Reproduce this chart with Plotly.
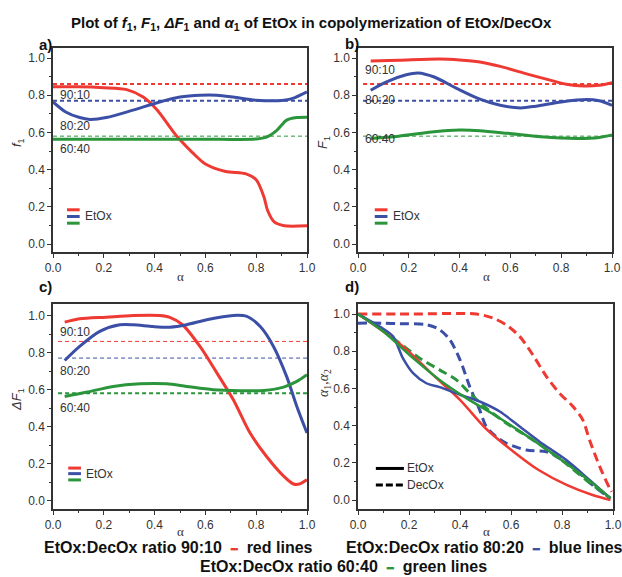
import plotly.graph_objects as go

# ---------------- data ----------------
RATIOS = ["90:10", "80:20", "60:40"]
COLORS = ["#ee3a32", "#3c4fa6", "#2b953c"]
COLOR_NAMES = ["red", "blue", "green"]
FEED_F1 = [0.86, 0.77, 0.58]

# panel a: f1 vs alpha
a_x_red = [0.0, 0.1, 0.2, 0.29, 0.355, 0.41, 0.47, 0.5, 0.55, 0.6, 0.68, 0.76, 0.8, 0.83, 0.845, 0.87, 0.91, 1.0]
a_y_red = [0.845, 0.845, 0.84, 0.83, 0.79, 0.72, 0.61, 0.56, 0.49, 0.43, 0.39, 0.377, 0.345, 0.255, 0.18, 0.12, 0.098, 0.098]
a_x_blue = [0.0, 0.05, 0.105, 0.145, 0.21, 0.315, 0.42, 0.5, 0.58, 0.645, 0.71, 0.8, 0.91, 0.95, 1.0]
a_y_blue = [0.764, 0.71, 0.68, 0.67, 0.68, 0.72, 0.764, 0.79, 0.80, 0.80, 0.79, 0.773, 0.773, 0.786, 0.818]
a_x_green = [0.0, 0.3, 0.6, 0.8, 0.84, 0.88, 0.92, 0.96, 1.0]
a_y_green = [0.563, 0.563, 0.563, 0.565, 0.575, 0.61, 0.666, 0.68, 0.682]

# panel b: F1 vs alpha
b_x_red = [0.05, 0.16, 0.32, 0.4, 0.48, 0.56, 0.66, 0.76, 0.82, 0.89, 0.95, 1.0]
b_y_red = [0.984, 0.988, 0.995, 0.99, 0.979, 0.955, 0.916, 0.88, 0.859, 0.85, 0.854, 0.868]
b_x_blue = [0.05, 0.11, 0.19, 0.237, 0.3, 0.39, 0.48, 0.56, 0.64, 0.7, 0.8, 0.9, 0.95, 1.0]
b_y_blue = [0.827, 0.871, 0.91, 0.92, 0.898, 0.836, 0.779, 0.746, 0.732, 0.741, 0.764, 0.777, 0.77, 0.746]
b_x_green = [0.05, 0.16, 0.3, 0.4, 0.48, 0.59, 0.72, 0.86, 0.95, 1.0]
b_y_green = [0.568, 0.58, 0.604, 0.6125, 0.609, 0.595, 0.577, 0.568, 0.573, 0.586]

# panel c: dF1 vs alpha
c_x_red = [0.046, 0.105, 0.21, 0.316, 0.42, 0.46, 0.51, 0.58, 0.645, 0.71, 0.776, 0.84, 0.91, 0.947, 0.97, 1.0]
c_y_red = [0.964, 0.982, 0.991, 1.0, 1.0, 0.99, 0.95, 0.83, 0.69, 0.545, 0.365, 0.24, 0.13, 0.09, 0.09, 0.113]
c_x_blue = [0.046, 0.105, 0.184, 0.263, 0.316, 0.395, 0.46, 0.526, 0.605, 0.71, 0.763, 0.816, 0.868, 0.92, 0.96, 1.0]
c_y_blue = [0.757, 0.833, 0.914, 0.95, 0.95, 0.94, 0.937, 0.95, 0.977, 1.0, 0.995, 0.94, 0.833, 0.67, 0.509, 0.365]
c_x_green = [0.046, 0.13, 0.237, 0.342, 0.447, 0.526, 0.63, 0.737, 0.83, 0.908, 0.96, 1.0]
c_y_green = [0.563, 0.585, 0.617, 0.631, 0.631, 0.617, 0.599, 0.594, 0.595, 0.613, 0.644, 0.68]

# panel d: alpha1 (EtOx, solid) and alpha2 (DecOx, dashed) vs alpha
d_x_et_red = [0.0, 0.098, 0.19, 0.294, 0.4, 0.5, 0.61, 0.71, 0.82, 0.92, 0.99]
d_y_et_red = [1.0, 0.907, 0.81, 0.673, 0.539, 0.386, 0.26, 0.16, 0.08, 0.027, 0.0]
d_x_et_blue = [0.0, 0.085, 0.137, 0.176, 0.216, 0.268, 0.32, 0.4, 0.477, 0.556, 0.634, 0.712, 0.817, 0.908, 0.99]
d_y_et_blue = [1.0, 0.933, 0.88, 0.763, 0.682, 0.628, 0.607, 0.566, 0.53, 0.476, 0.395, 0.314, 0.215, 0.108, 0.009]
d_x_et_green = [0.0, 0.098, 0.216, 0.32, 0.425, 0.556, 0.686, 0.817, 0.92, 0.99]
d_y_et_green = [1.0, 0.907, 0.763, 0.646, 0.548, 0.44, 0.323, 0.197, 0.09, 0.009]
d_x_dec_red = [0.0, 0.2, 0.464, 0.53, 0.58, 0.634, 0.686, 0.739, 0.79, 0.843, 0.882, 0.908, 0.948, 0.987, 0.995]
d_y_dec_red = [1.0, 1.0, 1.0, 0.978, 0.943, 0.88, 0.78, 0.664, 0.575, 0.503, 0.43, 0.323, 0.18, 0.063, 0.045]
d_x_dec_blue = [0.0, 0.1, 0.163, 0.268, 0.32, 0.36, 0.4, 0.438, 0.477, 0.503, 0.542, 0.582, 0.66, 0.739, 0.79, 0.856, 0.92, 0.99]
d_y_dec_blue = [0.951, 0.951, 0.948, 0.943, 0.916, 0.862, 0.754, 0.61, 0.485, 0.395, 0.341, 0.305, 0.269, 0.26, 0.224, 0.16, 0.08, 0.009]
d_x_dec_green = [0.0, 0.085, 0.163, 0.242, 0.32, 0.386, 0.438, 0.503, 0.582, 0.686, 0.79, 0.895, 0.99]
d_y_dec_green = [1.0, 0.925, 0.844, 0.763, 0.7, 0.646, 0.575, 0.494, 0.413, 0.323, 0.224, 0.108, 0.009]

TICKS = [0.0, 0.2, 0.4, 0.6, 0.8, 1.0]
TICK_TEXT = ["0.0", "0.2", "0.4", "0.6", "0.8", "1.0"]

# ---------------- figure ----------------
W, H = 622, 577
FONT = "Liberation Sans, Arial, sans-serif"
SERIF = "Liberation Serif, serif"
AXC = "#333333"

fig = go.Figure()

def curve(x, y, color, ax, dash="solid", width=3):
    fig.add_trace(go.Scatter(x=x, y=y, mode="lines", xaxis="x" + ax, yaxis="y" + ax,
                             line=dict(color=color, width=width, dash=dash, shape="spline", smoothing=0.8),
                             showlegend=False, hoverinfo="skip"))

def feed_line(v, color, ax, width, x0):
    fig.add_trace(go.Scatter(x=[x0, 1.0], y=[v, v], mode="lines", xaxis="x" + ax, yaxis="y" + ax,
                             line=dict(color=color, width=width, dash="4px,3px"),
                             showlegend=False, hoverinfo="skip"))

# panel a
feed_line(FEED_F1[0], COLORS[0], "", 2, 0.0)
feed_line(FEED_F1[1], COLORS[1], "", 2, 0.0)
feed_line(FEED_F1[2], COLORS[2], "", 1, 0.0)
curve(a_x_red, a_y_red, COLORS[0], "")
curve(a_x_blue, a_y_blue, COLORS[1], "")
curve(a_x_green, a_y_green, COLORS[2], "")
# panel b
feed_line(FEED_F1[0], COLORS[0], "2", 2, 0.02)
feed_line(FEED_F1[1], COLORS[1], "2", 2, 0.02)
feed_line(FEED_F1[2], COLORS[2], "2", 1, 0.02)
curve(b_x_red, b_y_red, COLORS[0], "2")
curve(b_x_blue, b_y_blue, COLORS[1], "2")
curve(b_x_green, b_y_green, COLORS[2], "2")
# panel c
feed_line(FEED_F1[0], COLORS[0], "3", 1, 0.02)
feed_line(FEED_F1[1], COLORS[1], "3", 1, 0.02)
feed_line(FEED_F1[2], COLORS[2], "3", 2, 0.02)
curve(c_x_red, c_y_red, COLORS[0], "3")
curve(c_x_blue, c_y_blue, COLORS[1], "3")
curve(c_x_green, c_y_green, COLORS[2], "3")
# panel d
curve(d_x_dec_red, d_y_dec_red, COLORS[0], "4", dash="9px,5px", width=3)
curve(d_x_dec_blue, d_y_dec_blue, COLORS[1], "4", dash="9px,5px", width=3)
curve(d_x_dec_green, d_y_dec_green, COLORS[2], "4", dash="9px,5px", width=3)
curve(d_x_et_red, d_y_et_red, COLORS[0], "4", width=2.5)
curve(d_x_et_blue, d_y_et_blue, COLORS[1], "4", width=2.5)
curve(d_x_et_green, d_y_et_green, COLORS[2], "4", width=2.5)

# domains (pixel-based)
def xd(l, r):
    return [l / W, r / W]

def yd(t, b):
    return [1 - b / H, 1 - t / H]

def xaxis(dom, anchor):
    return dict(domain=dom, anchor=anchor, range=[0, 1], tickvals=TICKS, ticktext=TICK_TEXT,
                ticks="outside", ticklen=4, tickwidth=1, tickcolor=AXC, automargin=False,
                minor=dict(dtick=0.1, ticks="outside", ticklen=2.5, tickcolor=AXC),
                showline=True, linecolor=AXC, linewidth=1.5, mirror=True,
                showgrid=False, zeroline=False,
                tickfont=dict(family=FONT, size=12, color="#333"))

def yaxis(dom, anchor, rng):
    d = xaxis(dom, anchor)
    d["range"] = rng
    return d

fig.update_layout(
    width=W, height=H, margin=dict(l=0, r=0, t=0, b=0, autoexpand=False),
    paper_bgcolor="white", plot_bgcolor="white", showlegend=False,
    xaxis=xaxis(xd(53, 307), "y"), yaxis=yaxis(yd(48, 252), "x", [-0.043, 1.054]),
    xaxis2=xaxis(xd(358, 612), "y2"), yaxis2=yaxis(yd(48, 252), "x2", [-0.043, 1.054]),
    xaxis3=xaxis(xd(53, 307), "y3"), yaxis3=yaxis(yd(304, 509), "x3", [-0.045, 1.062]),
    xaxis4=xaxis(xd(358, 613), "y4"), yaxis4=yaxis(yd(304, 509), "x4", [-0.048, 1.054]),
)

ann = []
def txt(x, y, text, size=12, ref="paper", xanchor="center", color="#333", angle=0, family=FONT, yanchor="middle"):
    if ref == "paper":
        ann.append(dict(x=x / W, y=1 - y / H, xref="paper", yref="paper", text=text, showarrow=False,
                        xanchor=xanchor, yanchor=yanchor, textangle=angle,
                        font=dict(family=family, size=size, color=color)))
    else:
        ann.append(dict(x=x, y=y, xref="x" + ref, yref="y" + ref, text=text, showarrow=False,
                        xanchor=xanchor, yanchor=yanchor, textangle=angle,
                        font=dict(family=family, size=size, color=color)))

# title
txt(311, 24, "<b>Plot of <i>f</i><sub>1</sub>, <i>F</i><sub>1</sub>, <i>ΔF</i><sub>1</sub> and <i>α</i><sub>1</sub> of EtOx in copolymerization of EtOx/DecOx</b>", size=15, color="#111")
# panel letters
for lx, ly, lt in [(45, 44, "a)"), (352, 43, "b)"), (45, 286, "c)"), (352, 286, "d)")]:
    txt(lx, ly, "<b>" + lt + "</b>", size=15, color="#111")

# axis titles
for ax_x, ax_y in [(180, 276), (486, 276), (180, 531), (486, 531)]:
    txt(ax_x, ax_y, "α", size=13, family=SERIF)
txt(17, 143, "<i>f</i><sub>1</sub>", size=13, angle=-90)
txt(323, 143, "<i>F</i><sub>1</sub>", size=13, angle=-90)
txt(17, 400, "<i>ΔF</i><sub>1</sub>", size=13, angle=-90)
txt(325, 383, "<i>α</i><sub>1</sub>,<i>α</i><sub>2</sub>", size=14, angle=-90, family=SERIF)

# ratio labels inside panels
lab_pos = {"": [0.80, 0.636, 0.51], "2": [0.934, 0.773, 0.564], "3": [0.91, 0.70, 0.50]}
for ax, ys in lab_pos.items():
    for r, yv in zip(RATIOS, ys):
        txt(0.02, yv, r, size=12, ref=ax, xanchor="left")

# in-panel legends a, b, c
shapes = []
leg = {"": (0.055, [0.184, 0.148, 0.112]), "2": (0.066, [0.184, 0.148, 0.112]), "3": (0.06, [0.176, 0.146, 0.112])}
for ax, (x0, ys) in leg.items():
    for c, yv in zip(COLORS, ys):
        shapes.append(dict(type="line", xref="x" + ax, yref="y" + ax, x0=x0, x1=x0 + 0.05, y0=yv, y1=yv,
                           line=dict(color=c, width=3)))
    txt(x0 + 0.062, ys[1], "EtOx", size=12, ref=ax, xanchor="left")
# panel d legend
shapes.append(dict(type="line", xref="x4", yref="y4", x0=0.07, x1=0.18, y0=0.17, y1=0.17,
                   line=dict(color="black", width=3)))
shapes.append(dict(type="line", xref="x4", yref="y4", x0=0.07, x1=0.18, y0=0.081, y1=0.081,
                   line=dict(color="black", width=3, dash="7px,3px")))
txt(0.185, 0.17, "EtOx", size=12, ref="4", xanchor="left")
txt(0.185, 0.081, "DecOx", size=12, ref="4", xanchor="left")

# bottom explanation
def expl(ratio, color, cname):
    return ("<b>EtOx:DecOx ratio %s  </b><span style='color:%s;font-size:11px'><b>━</b></span><b>  %s lines</b>"
            % (ratio, color, cname))
txt(42, 547, expl(RATIOS[0], COLORS[0], COLOR_NAMES[0]), size=16, xanchor="left", color="#111")
txt(344, 547, expl(RATIOS[1], COLORS[1], COLOR_NAMES[1]), size=16, xanchor="left", color="#111")
txt(343, 566, expl(RATIOS[2], COLORS[2], COLOR_NAMES[2]), size=16, color="#111")

fig.update_layout(annotations=ann, shapes=shapes)
fig.write_html("out.html", config={"displayModeBar": False},
               post_script="document.body.style.margin='0px';document.body.style.overflow='hidden';")
